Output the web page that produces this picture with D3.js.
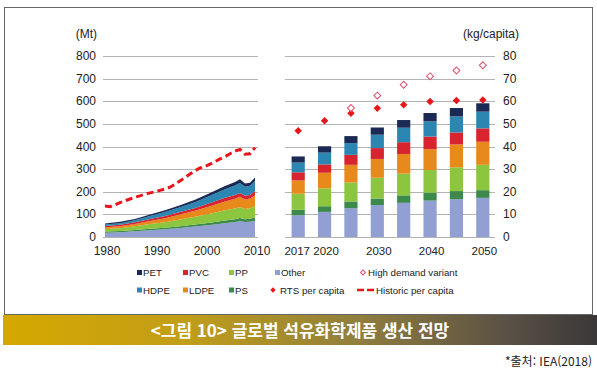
<!DOCTYPE html>
<html lang="ko">
<head>
<meta charset="UTF-8">
<title>글로벌 석유화학제품 생산 전망</title>
<style>
  body { margin: 0; background: #fff; }
  svg { display: block; font-family: "Liberation Sans", Arial, sans-serif; }
</style>
</head>
<body>
<svg></svg>
<script src="https://d3js.org/d3.v7.min.js"></script>
<script>
    var width = 597, height = 376;

    // stack order, bottom to top
    var layers = ["Other", "PS", "PP", "LDPE", "PVC", "HDPE", "PET"];
    var colors = ["#919fd3", "#3b8a4c", "#8cc63f", "#e8891c", "#d8242e", "#2b87b2", "#1b2a55"];

    // historic production (Mt)
    var histYears = [1980, 1983, 1986, 1989, 1992, 1995, 1998, 2001, 2004, 2006, 2007, 2008, 2009, 2010];
    var histOther = [19, 21, 25, 30, 34, 40, 46, 53, 61, 66, 70, 66, 67, 72];
    var histPS    = [5, 5, 6, 7, 7, 8, 9, 10, 12, 13, 14, 13, 14, 15];
    var histPP    = [11, 13, 16, 20, 24, 29, 34, 40, 45, 47, 49, 45, 46, 50];
    var histLDPE  = [8, 9, 11, 14, 18, 22, 27, 33, 39, 43, 45, 42, 43, 48];
    var histPVC   = [6, 6, 7, 9, 10, 11, 12, 14, 16, 17, 17, 16, 16, 18];
    var histHDPE  = [6, 7, 9, 13, 17, 21, 26, 32, 38, 42, 44, 40, 40, 44];
    var histPET   = [5, 6, 6, 7, 8, 9, 11, 13, 14, 15, 16, 14, 14, 16];

    // historic per capita (kg/capita)
    var capYears = d3.range(1980, 2011);
    var capHist = [13.7, 13.4, 14.2, 15.2, 16.0, 16.8, 17.6, 18.2, 18.9, 19.5, 20.0,
                   20.6, 21.2, 22.0, 23.3, 24.8, 26.3, 27.8, 29.3, 30.5, 31.2,
                   32.2, 33.3, 34.5, 35.5, 36.8, 38.0, 38.7, 36.6, 36.8, 39.5];

    // projections (Mt)
    var projYears = ["2017", "2020", "2025", "2030", "2035", "2040", "2045", "2050"];
    var projLabels = ["2017", "2020", "", "2030", "", "2040", "", "2050"];
    var projOther = [96, 111, 127, 141, 151, 161, 167, 173];
    var projPS    = [24, 25, 30, 29, 33, 35, 36, 34];
    var projPP    = [71, 79, 84, 92, 96, 100, 105, 112];
    var projLDPE  = [59, 69, 78, 83, 87, 92, 101, 102];
    var projPVC   = [36, 37, 44, 48, 52, 56, 53, 59];
    var projHDPE  = [43, 52, 52, 59, 64, 67, 71, 74];
    var projPET   = [27, 28, 31, 32, 34, 37, 37, 37];

    // per capita projections (kg/capita)
    var rtsCap  = [47.0, 51.4, 54.7, 56.9, 58.4, 59.9, 60.3, 60.6];
    var highCap = [null, null, 57.0, 62.5, 67.3, 71.0, 73.6, 75.9];

    var yTicks = [0, 100, 200, 300, 400, 500, 600, 700, 800];
    var yTicksCap = [0, 10, 20, 30, 40, 50, 60, 70, 80];
    var xTicks = [1980, 1990, 2000, 2010];

    var histRows = histYears.map(function (y, i) {
        return {year: y, Other: histOther[i], PS: histPS[i], PP: histPP[i], LDPE: histLDPE[i],
                PVC: histPVC[i], HDPE: histHDPE[i], PET: histPET[i]};
    });
    var projRows = projYears.map(function (y, i) {
        return {year: y, Other: projOther[i], PS: projPS[i], PP: projPP[i], LDPE: projLDPE[i],
                PVC: projPVC[i], HDPE: projHDPE[i], PET: projPET[i]};
    });

    var color = d3.scaleOrdinal().domain(layers).range(colors);
    var stack = d3.stack().keys(layers);

    var svg = d3.select("svg").attr("width", width).attr("height", height);
    svg.append("rect").attr("width", width).attr("height", height).attr("fill", "#fff");

    // frame
    svg.append("rect")
        .attr("x", 4.5).attr("y", 7.5).attr("width", 588).attr("height", 307)
        .attr("fill", "none").attr("stroke", "#666").attr("stroke-width", 1);

    var y = d3.scaleLinear().domain([0, 800]).range([237, 56]);
    var yCap = d3.scaleLinear().domain([0, 80]).range([237, 56]);
    var xHist = d3.scaleLinear().domain([1980, 2010]).range([105, 255]);
    var xProj = d3.scaleBand().domain(projYears).range([285, 496]).paddingInner(0.5).paddingOuter(0.25);

    // grid lines
    var grid = svg.append("g").attr("stroke", "#b3b3b3").attr("stroke-width", 1);
    grid.selectAll("line.l").data(yTicks).enter().append("line")
        .attr("x1", 103).attr("x2", 258)
        .attr("y1", function (d) { return Math.round(y(d)) + 0.5; })
        .attr("y2", function (d) { return Math.round(y(d)) + 0.5; });
    grid.selectAll("line.r").data(yTicks).enter().append("line")
        .attr("x1", 285).attr("x2", 495)
        .attr("y1", function (d) { return Math.round(y(d)) + 0.5; })
        .attr("y2", function (d) { return Math.round(y(d)) + 0.5; });

    // stacked areas
    var area = d3.area()
        .x(function (d) { return xHist(d.data.year); })
        .y0(function (d) { return y(d[0]); })
        .y1(function (d) { return y(d[1]); });
    svg.append("g").selectAll("path").data(stack(histRows)).enter().append("path")
        .attr("d", area)
        .attr("fill", function (d) { return color(d.key); });

    // historic per capita dashed line
    var capLine = d3.line()
        .x(function (d, i) { return xHist(capYears[i]); })
        .y(function (d) { return yCap(d); });
    svg.append("path").datum(capHist)
        .attr("d", capLine)
        .attr("fill", "none")
        .attr("stroke", "#e8161b")
        .attr("stroke-width", 3)
        .attr("stroke-dasharray", "7,4");

    // stacked bars
    svg.append("g").selectAll("g").data(stack(projRows)).enter().append("g")
        .attr("fill", function (d) { return color(d.key); })
        .selectAll("rect").data(function (d) { return d; }).enter().append("rect")
        .attr("x", function (d) { return xProj(d.data.year); })
        .attr("width", xProj.bandwidth())
        .attr("y", function (d) { return y(d[1]); })
        .attr("height", function (d) { return y(d[0]) - y(d[1]); });

    // per capita markers
    var cx = function (i) { return xProj(projYears[i]) + xProj.bandwidth() / 2; };
    svg.append("g").selectAll("path").data(rtsCap).enter().append("path")
        .attr("d", d3.symbol().type(d3.symbolSquare).size(28))
        .attr("fill", "#e8161b")
        .attr("transform", function (d, i) { return "translate(" + cx(i) + "," + yCap(d) + ") rotate(45)"; });
    svg.append("g").selectAll("path").data(highCap).enter().append("path")
        .attr("d", d3.symbol().type(d3.symbolSquare).size(24))
        .attr("display", function (d) { return d == null ? "none" : null; })
        .attr("fill", "#fff")
        .attr("stroke", "#e0506e")
        .attr("stroke-width", 1)
        .attr("transform", function (d, i) { return "translate(" + cx(i) + "," + yCap(d || 0) + ") rotate(45)"; });

    // axis labels
    var txt = svg.append("g").attr("fill", "#222").style("font-size", "12px");
    txt.selectAll("text.yl").data(yTicks).enter().append("text")
        .attr("x", 96).attr("y", function (d) { return y(d) + 4; })
        .attr("text-anchor", "end")
        .text(function (d) { return d; });
    txt.selectAll("text.yr").data(yTicksCap).enter().append("text")
        .attr("x", 503).attr("y", function (d) { return yCap(d) + 4; })
        .text(function (d) { return d; });
    txt.selectAll("text.xl").data(xTicks).enter().append("text")
        .attr("x", function (d) { return xHist(d) + 2; }).attr("y", 255)
        .attr("text-anchor", "middle")
        .text(function (d) { return d; });
    txt.selectAll("text.xr").data(projYears).enter().append("text")
        .attr("x", function (d, i) { return xProj(d) + xProj.bandwidth() / 2 + (i === 0 ? -1 : 1.5); })
        .attr("y", 255)
        .attr("text-anchor", "middle")
        .style("font-size", "11.5px")
        .text(function (d, i) { return projLabels[i]; });
    txt.append("text").attr("x", 97).attr("y", 38).attr("text-anchor", "end").text("(Mt)");
    txt.append("text").attr("x", 519).attr("y", 38).attr("text-anchor", "end").text("(kg/capita)");

    // legend
    var legendItems = [
        {label: "PET", kind: "sq", key: "PET", x: 137, row: 0},
        {label: "PVC", kind: "sq", key: "PVC", x: 183, row: 0},
        {label: "PP", kind: "sq", key: "PP", x: 229, row: 0},
        {label: "Other", kind: "sq", key: "Other", x: 275, row: 0},
        {label: "High demand variant", kind: "open", x: 362, row: 0},
        {label: "HDPE", kind: "sq", key: "HDPE", x: 137, row: 1},
        {label: "LDPE", kind: "sq", key: "LDPE", x: 183, row: 1},
        {label: "PS", kind: "sq", key: "PS", x: 229, row: 1},
        {label: "RTS per capita", kind: "dia", x: 273, row: 1},
        {label: "Historic per capita", kind: "dash", x: 357, row: 1}
    ];
    var legend = svg.append("g").style("font-size", "9.7px").attr("fill", "#222");
    legendItems.forEach(function (d) {
        var ly = d.row === 0 ? 272.5 : 290;
        var tx = d.x + 6;
        if (d.kind === "sq") {
            legend.append("rect").attr("x", d.x).attr("y", ly - 2.5).attr("width", 5).attr("height", 5)
                .attr("fill", color(d.key));
        } else if (d.kind === "open") {
            legend.append("path").attr("d", d3.symbol().type(d3.symbolSquare).size(12))
                .attr("fill", "#fff").attr("stroke", "#e0506e")
                .attr("transform", "translate(" + (d.x + 1) + "," + ly + ") rotate(45)");
        } else if (d.kind === "dia") {
            legend.append("path").attr("d", d3.symbol().type(d3.symbolSquare).size(14))
                .attr("fill", "#e8161b")
                .attr("transform", "translate(" + d.x + "," + ly + ") rotate(45)");
            tx = d.x + 7;
        } else {
            legend.append("line").attr("x1", d.x).attr("x2", d.x + 18).attr("y1", ly).attr("y2", ly)
                .attr("stroke", "#e8161b").attr("stroke-width", 2.5).attr("stroke-dasharray", "7,3");
            tx = d.x + 19;
        }
        legend.append("text").attr("x", tx).attr("y", ly + 3.5).text(d.label);
    });

    // title banner
    var grad = svg.append("defs").append("linearGradient").attr("id", "banner");
    [["0", "#d5a800"], ["0.3", "#c29e18"], ["0.6", "#8f7e3e"], ["0.85", "#5a5045"], ["1", "#3a3838"]]
        .forEach(function (s) {
            grad.append("stop").attr("offset", s[0]).attr("stop-color", s[1]);
        });
    svg.append("rect").attr("x", 3).attr("y", 315).attr("width", 594).attr("height", 30)
        .attr("fill", "url(#banner)");
    svg.append("text")
        .attr("x", 300).attr("y", 336.5)
        .attr("text-anchor", "middle")
        .attr("fill", "#fff")
        .style("font-family", "'Noto Sans CJK KR', sans-serif")
        .style("font-weight", "bold")
        .style("font-size", "17px")
        .text("<그림 10> 글로벌 석유화학제품 생산 전망");

    svg.append("text")
        .attr("x", 592).attr("y", 366)
        .attr("text-anchor", "end")
        .attr("fill", "#222")
        .style("font-family", "'Noto Sans CJK KR', sans-serif")
        .style("font-size", "12px")
        .text("*출처: IEA(2018)");
</script>
</body>
</html>
